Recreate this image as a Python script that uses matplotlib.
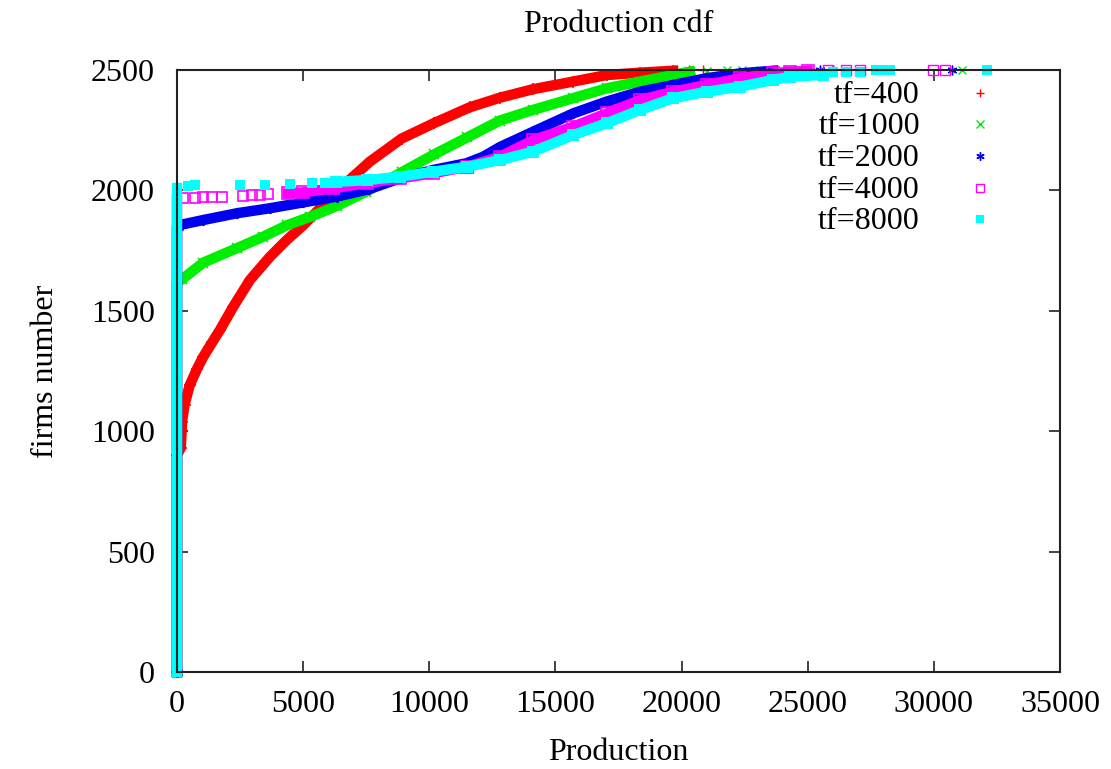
import matplotlib
matplotlib.use("Agg")
import matplotlib.pyplot as plt
from matplotlib.lines import Line2D

plt.rcParams['font.family'] = ['Liberation Serif', 'DejaVu Serif']

# ---- data (production, firms number) ----
# tf=400
prod_400 = [0, 0, 150, 200, 300, 500, 800, 1040, 1400, 1700, 2230, 2890, 3690, 4350, 5000,
            5900, 6800, 7650, 8900, 10200, 11600, 12800, 14100, 15700, 17030, 18350, 19670]
firms_400 = [0, 900, 930, 1040, 1110, 1190, 1260, 1309, 1370, 1420, 1517, 1628, 1725, 1794,
             1855, 1950, 2040, 2120, 2215, 2280, 2345, 2385, 2420, 2452, 2479, 2489, 2497]
prod_400_tail = [19000, 19540, 20300, 20860, 24100]
firms_400_tail = [2492, 2494, 2498, 2499, 2500]

# tf=1000
prod_1000 = [0, 0, 190, 1040, 2370, 3420, 4350, 5270, 6330, 7500, 8900, 10200, 11500, 12800,
             14100, 15700, 17030, 18350, 19670, 20330]
firms_1000 = [0, 1620, 1630, 1700, 1760, 1808, 1855, 1890, 1935, 1995, 2075, 2150, 2220, 2290,
              2334, 2383, 2424, 2452, 2479, 2493]
prod_1000_tail = [21000, 21800, 22400, 23100, 31100]
firms_1000_tail = [2497, 2498, 2499, 2500, 2500]

# tf=2000
prod_2000 = [0, 0, 190, 1040, 2370, 3690, 5000, 6330, 7600, 8840, 10160, 11480, 12140, 12800,
             14120, 15710, 17030, 18350, 19670, 21000, 22320, 23640]
firms_2000 = [0, 1850, 1858, 1877, 1905, 1926, 1950, 1974, 2005, 2050, 2085, 2113, 2140, 2180,
              2244, 2320, 2369, 2410, 2438, 2466, 2486, 2497]
prod_2000_tail = [24500, 25500, 26000, 30700]
firms_2000_tail = [2499, 2500, 2500, 2500]

# tf=4000
prod_4000 = [0, 0]
firms_4000 = [0, 1960]
prod_4000_low = [250, 710, 1040, 1380, 1770, 2630, 2960, 3290, 3620]
firms_4000_low = [1968, 1970, 1971, 1972, 1973, 1978, 1980, 1981, 1983]
prod_4000_band = [4400, 5000, 6200, 7520, 8840, 10160, 11480, 12800, 14120, 15710, 17030,
                  18350, 19670, 21000, 22320, 23640, 24300, 25000]
firms_4000_band = [1988, 1992, 2009, 2030, 2050, 2071, 2098, 2140, 2209, 2265, 2320,
                   2375, 2410, 2438, 2466, 2486, 2493, 2496]
prod_4000_tail = [25800, 26500, 27070, 29980, 30440]
firms_4000_tail = [2498, 2499, 2500, 2500, 2500]

# tf=8000
prod_8000 = [0, 0]
firms_8000 = [0, 2010]
prod_8000_low = [450, 710, 2500, 3490, 4480, 5340, 5870]
firms_8000_low = [2018, 2022, 2022, 2023, 2027, 2030, 2032]
prod_8000_band = [6300, 7520, 8840, 10160, 11480, 12800, 14120, 15710, 17030, 18350, 19670,
                  21000, 22320, 23640, 24300, 25600]
firms_8000_band = [2035, 2043, 2057, 2078, 2098, 2126, 2161, 2230, 2279, 2334, 2383,
                   2410, 2431, 2459, 2472, 2480]
prod_8000_tail = [26000, 26500, 27070, 27700, 28000, 28260, 32100]
firms_8000_tail = [2490, 2490, 2491, 2500, 2500, 2500, 2500]

labels = ['tf=400', 'tf=1000', 'tf=2000', 'tf=4000', 'tf=8000']
colors = ['#ff0000', '#00ee00', '#0000ee', '#ff00ff', '#00ffff']

x_ticks = [0, 5000, 10000, 15000, 20000, 25000, 30000, 35000]
y_ticks = [0, 500, 1000, 1500, 2000, 2500]

FS = 23

fig = plt.figure(figsize=(11.11, 7.69), dpi=100)
ax = fig.add_axes([177/1111, 1 - 672/769, (1060-177)/1111, (672-70)/769])

asterisk = (6, 2, 0)
BAND = 7.5

# tf=400
ax.plot(prod_400, firms_400, color=colors[0], lw=BAND, marker='+', ms=8, mew=1.2,
        solid_joinstyle='round', clip_on=False, zorder=2)
ax.plot(prod_400_tail, firms_400_tail, ls='none', color=colors[0], marker='+', ms=7, mew=1.0,
        clip_on=False, zorder=2)
# tf=1000
ax.plot(prod_1000, firms_1000, color=colors[1], lw=BAND, marker='x', ms=7, mew=1.2,
        solid_joinstyle='round', clip_on=False, zorder=2)
ax.plot(prod_1000_tail, firms_1000_tail, ls='none', color=colors[1], marker='x', ms=6, mew=1.0,
        clip_on=False, zorder=2)
# tf=2000
ax.plot(prod_2000, firms_2000, color=colors[2], lw=BAND, marker=asterisk, ms=8, mew=1.2,
        solid_joinstyle='round', clip_on=False, zorder=2)
ax.plot(prod_2000_tail, firms_2000_tail, ls='none', color=colors[2], marker=asterisk, ms=7,
        mew=1.0, clip_on=False, zorder=2)
# tf=4000
ax.plot(prod_4000, firms_4000, color=colors[3], lw=BAND, clip_on=False, zorder=2)
ax.plot(prod_4000_low, firms_4000_low, ls='none', color=colors[3], marker='s', ms=7,
        mfc='none', mew=1.2, clip_on=False, zorder=2)
ax.plot(prod_4000_band, firms_4000_band, color=colors[3], lw=BAND, marker='s', ms=8,
        mfc='none', mew=1.2, solid_joinstyle='round', clip_on=False, zorder=2)
ax.plot(prod_4000_tail, firms_4000_tail, ls='none', color=colors[3], marker='s', ms=7,
        mfc='none', mew=1.0, clip_on=False, zorder=2)
# tf=8000
ax.plot(prod_8000, firms_8000, color=colors[4], lw=BAND, clip_on=False, zorder=2)
ax.plot(prod_8000_low, firms_8000_low, ls='none', color=colors[4], marker='s', ms=7,
        mew=0, clip_on=False, zorder=2)
ax.plot(prod_8000_band, firms_8000_band, color=colors[4], lw=BAND, marker='s', ms=8,
        mew=0, solid_joinstyle='round', clip_on=False, zorder=2)
ax.plot(prod_8000_tail, firms_8000_tail, ls='none', color=colors[4], marker='s', ms=7,
        mew=0, clip_on=False, zorder=2)

ax.set_xlim(0, 35000)
ax.set_ylim(0, 2500)
ax.set_xticks(x_ticks)
ax.set_yticks(y_ticks)
ax.tick_params(direction='in', top=True, right=True, length=8, width=1.2,
               labelsize=FS, color='#222222')
ax.tick_params(axis='y', pad=16)
ax.tick_params(axis='x', pad=13)
for s in ax.spines.values():
    s.set_linewidth(1.5)
    s.set_color('#222222')
    s.set_zorder(3)

ax.set_title('Production cdf', fontsize=FS, pad=27)
ax.set_xlabel('Production', fontsize=FS, labelpad=14)
ax.set_ylabel('firms number', fontsize=FS, labelpad=22)

# gnuplot-style key: right-aligned text with sample to its right
markers = [('+', dict(mew=1.0)), ('x', dict(mew=1.0)), (asterisk, dict(mew=1.0)),
           ('s', dict(mfc='none', mew=1.0)), ('s', dict(mew=0))]
key_y = [0.958, 0.906, 0.853, 0.800, 0.748]
for lab, col, (mk, kw), yy in zip(labels, colors, markers, key_y):
    ax.text(0.8414, yy, lab, transform=ax.transAxes, ha='right', va='center', fontsize=FS)
    ax.add_line(Line2D([0.9094], [yy + 0.004], transform=ax.transAxes, color=col, marker=mk,
                       ms=6, ls='none', **kw))

fig.savefig('out.png', dpi=100)
